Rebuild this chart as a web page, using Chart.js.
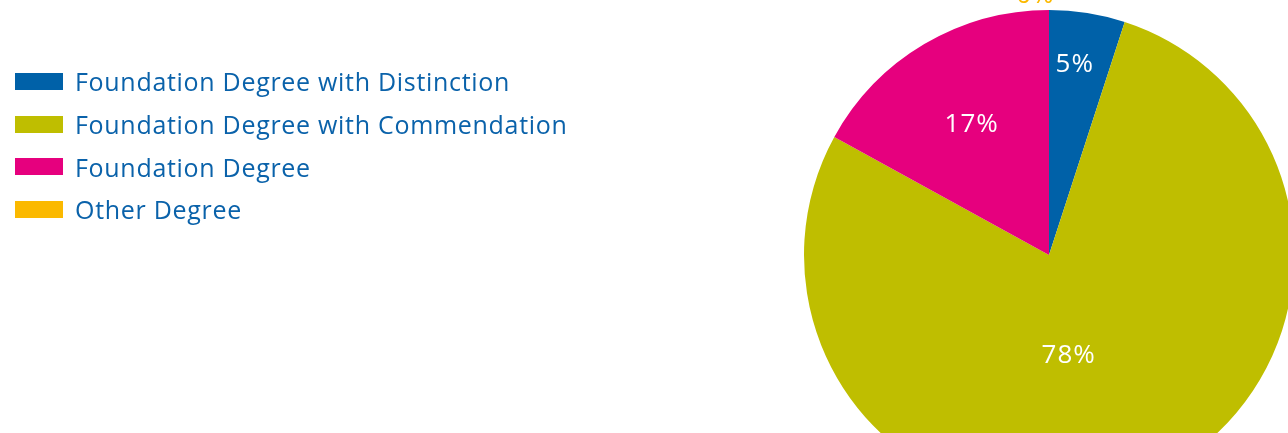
<!DOCTYPE html>
<html>
<head>
<meta charset="utf-8">
<script src="https://cdn.jsdelivr.net/npm/chart.js@4"></script>
<style>
  html, body { margin: 0; padding: 0; background: #fff; overflow: hidden; width: 1288px; height: 433px; }
  #wrap { position: absolute; left: 0; top: 0; width: 1320px; height: 520px; }
  #legend { position: absolute; left: 15px; top: 60px; margin: 0; padding: 0; list-style: none;
            font-family: "Open Sans", "Noto Sans", sans-serif; font-size: 25px; letter-spacing: 0.7px; color: #0a62aa; }
  #legend li { display: flex; align-items: center; height: 42.7px; }
  #legend span { display: inline-block; width: 48px; height: 17px; margin-right: 12px; }
</style>
</head>
<body>
<div id="wrap"><canvas id="pie" width="1320" height="520"></canvas></div>
<ul id="legend"></ul>
<script>
const labels = ["Foundation Degree with Distinction", "Foundation Degree with Commendation", "Foundation Degree", "Other Degree"];
const values = [5, 78, 17, 0];
const colors = ["#0061a8", "#bfbe00", "#e6007e", "#fbb900"];

// where each percentage sits: fraction of the radius and a small angle shift (degrees)
const labelRadius = [0.785, 0.42, 0.62, 1.06];
const labelShift = [-1.3, 10.6, 0, -3];
const labelColors = ["#fff", "#fff", "#fff", "#fbb900"];

const sliceLabels = {
  id: "sliceLabels",
  afterDatasetsDraw(chart) {
    const { ctx } = chart;
    const meta = chart.getDatasetMeta(0);
    ctx.save();
    ctx.font = "26px 'Open Sans', 'Noto Sans', sans-serif";
    ctx.letterSpacing = "1px";
    ctx.textAlign = "center";
    ctx.textBaseline = "middle";
    meta.data.forEach((arc, i) => {
      const { x, y, startAngle, endAngle, outerRadius } = arc.getProps(["x", "y", "startAngle", "endAngle", "outerRadius"], true);
      const mid = (startAngle + endAngle) / 2 + labelShift[i] * Math.PI / 180;
      const r = outerRadius * labelRadius[i];
      ctx.fillStyle = labelColors[i];
      ctx.fillText(values[i] + "%", x + Math.cos(mid) * r, y + Math.sin(mid) * r);
    });
    ctx.restore();
  }
};

new Chart(document.getElementById("pie").getContext("2d"), {
  type: "pie",
  data: {
    labels,
    datasets: [{
      data: values,
      backgroundColor: colors,
      borderWidth: 0
    }]
  },
  options: {
    responsive: false,
    animation: false,
    layout: { padding: { left: 804, right: 26, top: 10, bottom: 20 } },
    plugins: {
      legend: { display: false },
      tooltip: { enabled: false }
    }
  },
  plugins: [sliceLabels]
});

document.getElementById("legend").innerHTML = labels
  .map((l, i) => `<li><span style="background:${colors[i]}"></span>${l}</li>`)
  .join("");
</script>
</body>
</html>
